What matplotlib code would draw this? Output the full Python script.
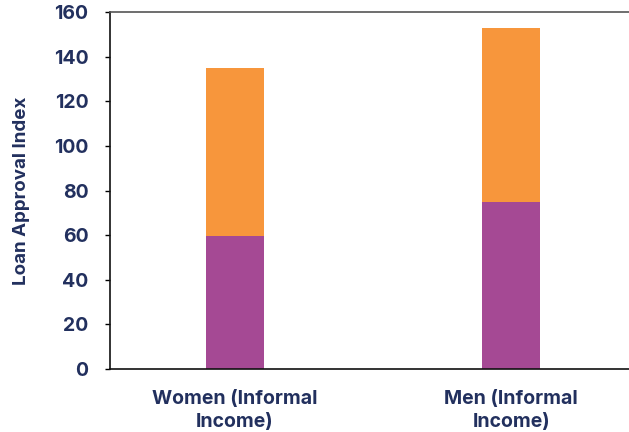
import matplotlib
matplotlib.use("Agg")
import matplotlib.pyplot as plt

categories = ["Women (Informal\nIncome)", "Men (Informal\nIncome)"]
base_values = [59.5, 75.0]
top_values = [75.5, 77.7]
y_ticks = [0, 20, 40, 60, 80, 100, 120, 140, 160]

NAVY = "#22305E"
PURPLE = "#A54994"
ORANGE = "#F7963C"

plt.rcParams["font.family"] = ["Inter", "DejaVu Sans"]
plt.rcParams["font.weight"] = "bold"

fig = plt.figure(figsize=(6.29, 4.32), dpi=100)
ax = fig.add_axes([110 / 629, 63 / 432, 519 / 629, 357 / 432])

x = range(len(categories))
ax.bar(x, base_values, width=0.21, color=PURPLE)
ax.bar(x, top_values, width=0.21, bottom=base_values, color=ORANGE)

ax.set_xlim(-0.453, 1.427)
ax.set_ylim(0, 160)
ax.set_yticks(y_ticks)
ax.set_xticks(list(x))
ax.set_xticklabels(categories, fontsize=14, color=NAVY, fontweight="bold",
                   linespacing=1.35)
ax.tick_params(axis="y", labelsize=14, labelcolor=NAVY, length=3.6, width=1, pad=12)
ax.tick_params(axis="x", length=0, pad=15)
ax.set_ylabel("Loan Approval Index", fontsize=13.5, color=NAVY, fontweight="bold",
              labelpad=17)

ax.spines["right"].set_visible(False)
ax.spines["top"].set_color("#555555")
ax.spines["left"].set_color("#111111")
ax.spines["bottom"].set_color("#111111")
for s in ax.spines.values():
    s.set_linewidth(1.2)

fig.savefig("out.png", dpi=100)
